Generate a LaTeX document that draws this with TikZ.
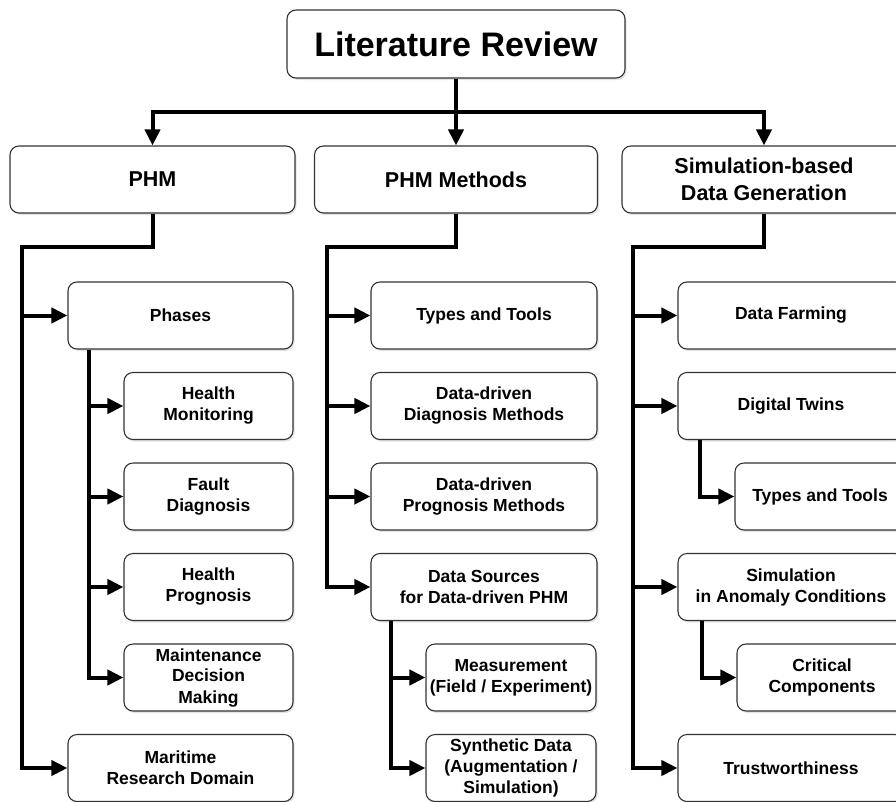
\documentclass[tikz,border=0pt]{standalone}
\usepackage{fontspec}
\setmainfont{Liberation Sans}
\usetikzlibrary{arrows.meta,shadows}
\begin{document}
\begin{tikzpicture}[x=1pt,y=-1pt,
  box/.style={draw=black!80, line width=1.1pt, rounded corners=9pt, fill=white,
    align=center, inner sep=0pt,
    font=\bfseries\fontsize{17.5}{21}\selectfont,
    drop shadow={opacity=0.22, shadow xshift=1.5pt, shadow yshift=-2pt}},
  mainbox/.style={box, minimum width=226pt, minimum height=67pt},
  subbox/.style={box, minimum width=170pt, minimum height=67pt},
  topbox/.style={box, minimum width=284pt, minimum height=67pt,
    font=\bfseries\fontsize{21.5}{27.5}\selectfont},
  conn/.style={line width=4pt, black},
  arr/.style={conn, -{Triangle[length=16pt,width=15pt]}},
]
\useasboundingbox (0,0) rectangle (896,801);
\clip (0,0) rectangle (896,801);

% root and first level
\node[box, minimum width=338pt, minimum height=68pt,
  font=\bfseries\fontsize{34}{40}\selectfont] (lit) at (456,44) {Literature Review};
\node[topbox, minimum width=285pt] (phm) at (152.5,179.5) {PHM};
\node[topbox, minimum width=283pt] (meth) at (456,179.5) {PHM Methods};
\node[topbox] (sim) at (764,179.5) {Simulation-based\\Data Generation};

% PHM column
\node[mainbox, minimum width=225pt] (phases) at (180.5,315.5) {Phases};
\node[subbox, minimum width=169pt] (hm)  at (208.5,406)   {Health\\Monitoring};
\node[subbox, minimum width=169pt] (fd)  at (208.5,496.5) {Fault\\Diagnosis};
\node[subbox, minimum width=169pt] (hp)  at (208.5,587)   {Health\\Prognosis};
\node[subbox, minimum width=169pt] (mdm) at (208.5,677.5) {Maintenance\\Decision\\Making};
\node[mainbox, minimum width=225pt] (mar) at (180.5,768) {Maritime\\Research Domain};

% PHM Methods column
\node[mainbox] (types) at (484,315.5) {Types and Tools};
\node[mainbox] (diag)  at (484,406)   {Data-driven\\Diagnosis Methods};
\node[mainbox] (prog)  at (484,496.5) {Data-driven\\Prognosis Methods};
\node[mainbox] (src)   at (484,587)   {Data Sources\\for Data-driven PHM};
\node[subbox] (meas)  at (511,677.5) {Measurement\\(Field / Experiment)};
\node[subbox] (synth) at (511,768)   {Synthetic Data\\(Augmentation /\\Simulation)};

% Simulation column
\node[mainbox] (farm)    at (791,315.5) {Data Farming};
\node[mainbox] (twin)    at (791,406)   {Digital Twins};
\node[subbox]  (twtools) at (820,496.5) {Types and Tools};
\node[mainbox] (anom)    at (791,587)   {Simulation\\in Anomaly Conditions};
\node[subbox]  (crit)    at (822,677.5) {Critical\\Components};
\node[mainbox] (trust)   at (791,768)   {Trustworthiness};

% root connectors
\coordinate (bus) at (456,112);
\draw[arr] (lit.south) -- (meth.north);
\draw[arr] (bus) -| (phm.north);
\draw[arr] (bus) -| (sim.north);

% PHM branch
\coordinate (c1) at (22,247);
\draw[arr] (phm.south) |- (c1) |- (mar.west);
\draw[arr] (c1 |- phases.west) -- (phases.west);
\coordinate (p1) at ([xshift=22pt]phases.south west);
\draw[arr] (p1) |- (mdm.west);
\draw[arr] (p1 |- hm.west) -- (hm.west);
\draw[arr] (p1 |- fd.west) -- (fd.west);
\draw[arr] (p1 |- hp.west) -- (hp.west);

% PHM Methods branch
\coordinate (c2) at (327,247);
\draw[arr] (meth.south) |- (c2) |- (src.west);
\draw[arr] (c2 |- types.west) -- (types.west);
\draw[arr] (c2 |- diag.west) -- (diag.west);
\draw[arr] (c2 |- prog.west) -- (prog.west);
\coordinate (s1) at ([xshift=21pt]src.south west);
\draw[arr] (s1) |- (synth.west);
\draw[arr] (s1 |- meas.west) -- (meas.west);

% Simulation branch
\coordinate (c3) at (633,247);
\draw[arr] (sim.south) |- (c3) |- (trust.west);
\draw[arr] (c3 |- farm.west) -- (farm.west);
\draw[arr] (c3 |- twin.west) -- (twin.west);
\draw[arr] (c3 |- anom.west) -- (anom.west);
\draw[arr] ([xshift=23pt]twin.south west) |- (twtools.west);
\draw[arr] ([xshift=25pt]anom.south west) |- (crit.west);
\end{tikzpicture}
\end{document}
